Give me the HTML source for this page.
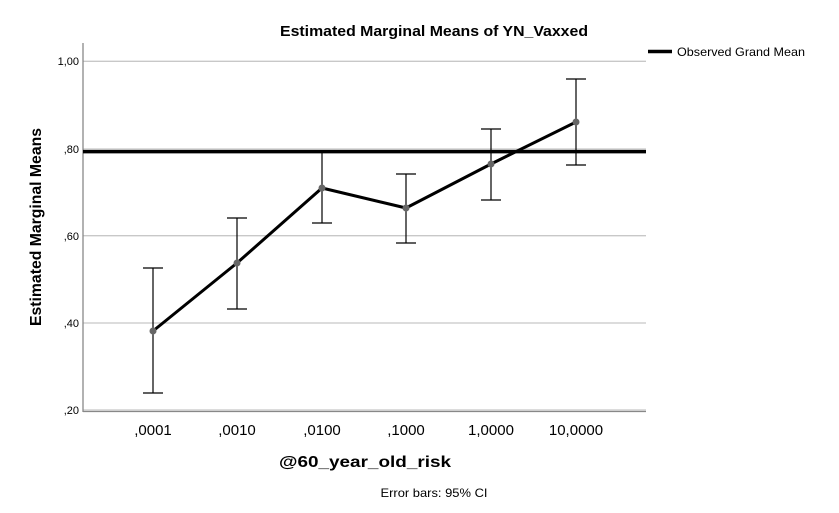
<!DOCTYPE html>
<html><head><meta charset="utf-8"><style>
html,body{margin:0;padding:0;background:#fff;}
svg{display:block;font-family:"Liberation Sans",Arial,sans-serif;}
</style></head><body>
<svg width="839" height="513" viewBox="0 0 839 513" xmlns="http://www.w3.org/2000/svg">
<rect width="839" height="513" fill="#fff"/>
<text x="434" y="36" text-anchor="middle" font-size="15" font-weight="bold" textLength="308" lengthAdjust="spacingAndGlyphs">Estimated Marginal Means of YN_Vaxxed</text>
<g stroke="#c8c8c8" stroke-width="1.3">
<line x1="83" y1="61.3" x2="646" y2="61.3"/>
<line x1="83" y1="149" x2="646" y2="149"/>
<line x1="83" y1="235.7" x2="646" y2="235.7"/>
<line x1="83" y1="323" x2="646" y2="323"/>
<line x1="83" y1="410" x2="646" y2="410"/>
</g>
<line x1="83" y1="43" x2="83" y2="412" stroke="#888" stroke-width="1.3"/>
<line x1="83" y1="411.5" x2="646" y2="411.5" stroke="#888" stroke-width="1.3"/>
<g font-size="11" text-anchor="end" fill="#000">
<text x="79" y="65">1,00</text>
<text x="79" y="153">,80</text>
<text x="79" y="240">,60</text>
<text x="79" y="327">,40</text>
<text x="79" y="414">,20</text>
</g>
<text transform="translate(41,227) rotate(-90)" text-anchor="middle" font-size="16" font-weight="bold" textLength="198" lengthAdjust="spacingAndGlyphs">Estimated Marginal Means</text>
<g font-size="15" text-anchor="middle">
<text x="153" y="435">,0001</text>
<text x="237" y="435">,0010</text>
<text x="322" y="435">,0100</text>
<text x="406" y="435">,1000</text>
<text x="491" y="435">1,0000</text>
<text x="576" y="435">10,0000</text>
</g>
<text x="365" y="467" text-anchor="middle" font-size="16" font-weight="bold" textLength="172" lengthAdjust="spacingAndGlyphs">@60_year_old_risk</text>
<text x="434" y="497" text-anchor="middle" font-size="12" textLength="107" lengthAdjust="spacingAndGlyphs">Error bars: 95% CI</text>
<line x1="83" y1="151.6" x2="646" y2="151.6" stroke="#000" stroke-width="3.5"/>
<g stroke="#000" stroke-width="1.2">
<line x1="153" y1="268" x2="153" y2="393"/><line x1="143" y1="268" x2="163" y2="268"/><line x1="143" y1="393" x2="163" y2="393"/>
<line x1="237" y1="218" x2="237" y2="309"/><line x1="227" y1="218" x2="247" y2="218"/><line x1="227" y1="309" x2="247" y2="309"/>
<line x1="322" y1="151" x2="322" y2="223"/><line x1="312" y1="223" x2="332" y2="223"/>
<line x1="406" y1="174" x2="406" y2="243"/><line x1="396" y1="174" x2="416" y2="174"/><line x1="396" y1="243" x2="416" y2="243"/>
<line x1="491" y1="129" x2="491" y2="200"/><line x1="481" y1="129" x2="501" y2="129"/><line x1="481" y1="200" x2="501" y2="200"/>
<line x1="576" y1="79" x2="576" y2="165"/><line x1="566" y1="79" x2="586" y2="79"/><line x1="566" y1="165" x2="586" y2="165"/>
</g>
<polyline points="153,331 237,263 322,188 406,208 491,164 576,122" fill="none" stroke="#000" stroke-width="3" stroke-linejoin="round"/>
<g fill="#666">
<circle cx="153" cy="331" r="3.5"/><circle cx="237" cy="263" r="3.5"/><circle cx="322" cy="188" r="3.5"/>
<circle cx="406" cy="208" r="3.5"/><circle cx="491" cy="164" r="3.5"/><circle cx="576" cy="122" r="3.5"/>
</g>
<line x1="648" y1="51.5" x2="672" y2="51.5" stroke="#000" stroke-width="3.5"/>
<text x="677" y="56" font-size="12" textLength="128" lengthAdjust="spacingAndGlyphs">Observed Grand Mean</text>
</svg>
</body></html>
